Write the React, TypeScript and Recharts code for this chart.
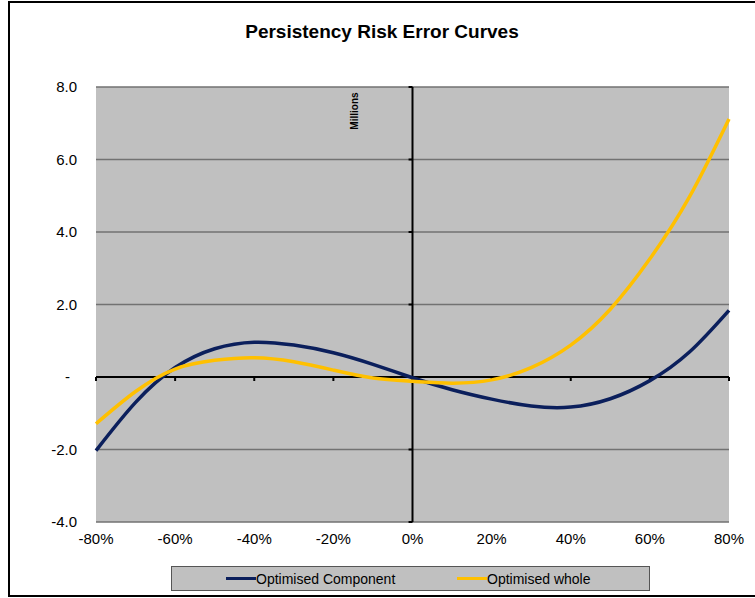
import React from "react";
import {
  LineChart,
  Line,
  XAxis,
  YAxis,
  CartesianGrid,
  ReferenceLine,
  Legend,
} from "recharts";

// persistency change (x) and error values in millions
const changes = [-80, -70, -60, -50, -40, -30, -20, -10, 0, 10, 20, 30, 40, 50, 60, 70, 80];
const componentErr = [-2.03, -0.7, 0.26, 0.78, 0.96, 0.88, 0.67, 0.35, -0.02, -0.35, -0.61, -0.8, -0.83, -0.6, -0.1, 0.69, 1.84];
const wholeErr = [-1.29, -0.4, 0.22, 0.46, 0.53, 0.42, 0.19, -0.03, -0.12, -0.17, -0.08, 0.26, 0.88, 1.87, 3.26, 4.97, 7.12];
const xTicks = [-80, -60, -40, -20, 0, 20, 40, 60, 80];
const yTicks = [-4, -2, 0, 2, 4, 6, 8];

const data = changes.map((c, i) => ({
  change: c,
  component: componentErr[i],
  whole: wholeErr[i],
}));

const FONT = '"Liberation Sans", Arial, sans-serif';
const NAVY = "#0b1f5c";
const GOLD = "#ffc000";

// Excel shows zero as "-" in accounting format
// eslint-disable-next-line @typescript-eslint/no-explicit-any
function YTick(props: any) {
  const { x, y, payload } = props;
  const v = payload.value as number;
  return (
    <text
      x={v === 0 ? x - 7 : x}
      y={y}
      dy={5}
      textAnchor="end"
      fontSize={15}
      fontFamily={FONT}
      fill="#000"
    >
      {v === 0 ? "-" : v.toFixed(1)}
    </text>
  );
}

// eslint-disable-next-line @typescript-eslint/no-explicit-any
function renderLegend(props: any) {
  const { payload } = props;
  const offsets = [54, 285];
  return (
    <div style={{ height: 44, position: "relative" }}>
      <div
        style={{
          position: "absolute",
          left: 171,
          top: 14,
          width: 477,
          height: 23,
          background: "#c0c0c0",
          border: "1px solid #555",
        }}
      >
        {/* eslint-disable-next-line @typescript-eslint/no-explicit-any */}
        {payload.map((entry: any, i: number) => (
          <div
            key={entry.value}
            style={{
              position: "absolute",
              left: offsets[i],
              top: 0,
              height: 23,
              display: "flex",
              alignItems: "center",
            }}
          >
            <div style={{ width: 30, height: 3.5, background: entry.color }} />
            <span style={{ fontSize: 14, fontFamily: FONT, color: "#000" }}>
              {entry.value}
            </span>
          </div>
        ))}
      </div>
    </div>
  );
}

// eslint-disable-next-line @typescript-eslint/no-explicit-any
function MillionsLabel(props: any) {
  const { viewBox } = props;
  const x = viewBox.x - 58;
  const y = viewBox.y + 24;
  return (
    <text
      x={x}
      y={y}
      transform={`rotate(-90 ${x} ${y})`}
      textAnchor="middle"
      dominantBaseline="central"
      fontSize={10}
      fontWeight="bold"
      fontFamily={FONT}
      fill="#000"
    >
      Millions
    </text>
  );
}

export default function App() {
  return (
    <div style={{ position: "absolute", left: 0, top: 0, width: 755, height: 598 }}>
      {/* outer chart frame */}
      <div
        style={{
          position: "absolute",
          left: 8,
          top: 1,
          width: 745,
          height: 592,
          borderLeft: "2px solid #000",
          borderTop: "2px solid #000",
          borderBottom: "2px solid #000",
        }}
      />
      <div
        style={{
          position: "absolute",
          left: 0,
          top: 21,
          width: 764,
          textAlign: "center",
          fontFamily: FONT,
          fontWeight: "bold",
          fontSize: 19,
          lineHeight: "22px",
        }}
      >
        Persistency Risk Error Curves
      </div>
      <div style={{ position: "absolute", left: 0, top: 0 }}>
        <LineChart
          width={755}
          height={598}
          data={data}
          margin={{ top: 87, right: 26, left: 36, bottom: 2 }}
        >
          <CartesianGrid
            vertical={false}
            stroke="#727272"
            strokeWidth={1.5}
            fill="#c0c0c0"
            fillOpacity={1}
          />
          <XAxis
            type="number"
            dataKey="change"
            domain={[-80, 80]}
            ticks={xTicks}
            tickFormatter={(v) => `${v}%`}
            axisLine={false}
            tickLine={false}
            tickMargin={5}
            height={30}
            interval={0}
            tick={{ fontSize: 15, fontFamily: FONT, fill: "#000" }}
          />
          <YAxis
            type="number"
            domain={[-4, 8]}
            ticks={yTicks}
            axisLine={false}
            tickLine={false}
            tickMargin={13}
            width={60}
            interval={0}
            tick={<YTick />}
          />
          {/* axes crossing at zero, like Excel */}
          <ReferenceLine y={0} stroke="#000" strokeWidth={2} />
          <ReferenceLine
            x={0}
            stroke="#000"
            strokeWidth={2}
            label={<MillionsLabel />}
          />
          {xTicks.map((t) => (
            <ReferenceLine
              key={"xt" + t}
              segment={[
                { x: t, y: 0 },
                { x: t, y: -0.11 },
              ]}
              stroke="#000"
              strokeWidth={2}
            />
          ))}
          {yTicks.map((t) => (
            <ReferenceLine
              key={"yt" + t}
              segment={[
                { x: 0, y: t },
                { x: -1, y: t },
              ]}
              stroke="#000"
              strokeWidth={2}
            />
          ))}
          <Line
            type="natural"
            dataKey="component"
            name="Optimised Component"
            stroke={NAVY}
            strokeWidth={3.5}
            dot={false}
            isAnimationActive={false}
          />
          <Line
            type="natural"
            dataKey="whole"
            name="Optimised whole"
            stroke={GOLD}
            strokeWidth={3.5}
            dot={false}
            isAnimationActive={false}
          />
          <Legend
            verticalAlign="bottom"
            content={renderLegend}
            wrapperStyle={{ left: 0, width: 755 }}
          />
        </LineChart>
      </div>
    </div>
  );
}
